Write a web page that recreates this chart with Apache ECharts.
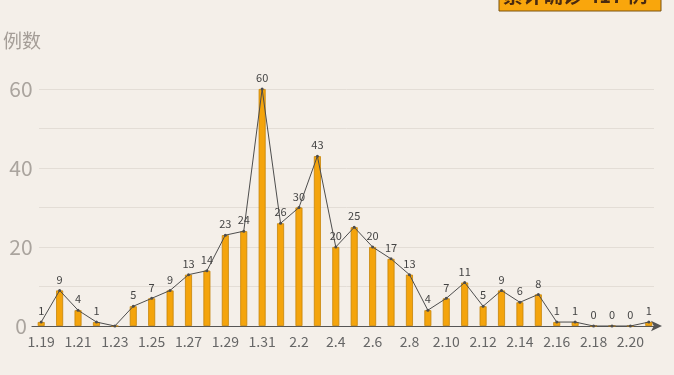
<!DOCTYPE html>
<html><head><meta charset="utf-8">
<script src="https://cdn.jsdelivr.net/npm/echarts@6/dist/echarts.min.js"></script>
<style>html,body{margin:0;padding:0;background:#F4EFE9;}#c{width:674px;height:375px;}</style>
</head><body><div id="c"></div>
<script>
const categories = ['1.19','1.20','1.21','1.22','1.23','1.24','1.25','1.26','1.27','1.28','1.29','1.30','1.31','2.1','2.2','2.3','2.4','2.5','2.6','2.7','2.8','2.9','2.10','2.11','2.12','2.13','2.14','2.15','2.16','2.17','2.18','2.19','2.20','2.21'];
const cases = [1,9,4,1,0,5,7,9,13,14,23,24,60,26,30,43,20,25,20,17,13,4,7,11,5,9,6,8,1,1,0,0,0,1];
const hiddenLabelIndex = [4];
const yTicks = [0,20,40,60];
const titleText = '例数';
const boxText = '累计确诊 417 例';

const chart = echarts.init(document.getElementById('c'));
const font = '"Noto Sans CJK SC", "Noto Sans", sans-serif';
chart.setOption({
  backgroundColor: '#F4EFE9',
  animation: false,
  graphic: [
    {type:'rect', shape:{x:499,y:-14,width:162,height:25}, style:{fill:'#F9A60C', stroke:'#7a5412', lineWidth:1}},
    {type:'text', left:503, top:-15, style:{text:boxText, font:'bold 20px "Noto Sans CJK SC"', fill:'#4a2a10'}},
    {type:'text', left:3, top:31, style:{text:titleText, font:'19px "Noto Sans CJK SC"', fill:'#a49d97'}}
  ],
  grid: [
    {left:39, right:20, top:89, height:237},
    {left:32, right:16, top:89, height:237}
  ],
  xAxis: [
    {gridIndex:0, type:'category', data:categories, show:false},
    {gridIndex:1, type:'category', data:categories, boundaryGap:true,
     axisLine:{show:true, lineStyle:{color:'#555', width:1.2}, symbol:['none','arrow'], symbolSize:[8,11], symbolOffset:[0,4]},
     axisTick:{show:false},
     axisLabel:{interval:1, margin:9, color:'#666', fontSize:14, fontFamily:font}}
  ],
  yAxis: [
    {gridIndex:0, type:'value', min:0, max:60, interval:10,
     axisLine:{show:false}, axisTick:{show:false},
     splitLine:{lineStyle:{color:'#e3ddd6', width:1}},
     axisLabel:{margin:18, align:'center', color:'#aaa49e', fontSize:21, fontFamily:font,
       formatter:v => yTicks.includes(v) ? String(v) : ''}},
    {gridIndex:1, type:'value', min:0, max:60, interval:10, show:false}
  ],
  series: [
    {type:'bar', xAxisIndex:1, yAxisIndex:1, data:cases, barWidth:7,
     itemStyle:{color:'#F4A40C', borderColor:'#c68408', borderWidth:0.8}},
    {type:'line', xAxisIndex:1, yAxisIndex:1, z:5,
     data:cases.map((v,i)=> hiddenLabelIndex.includes(i) ? {value:v, label:{show:false}} : v),
     symbol:'circle', symbolSize:3, showAllSymbol:true,
     lineStyle:{color:'#4d4d4d', width:1}, itemStyle:{color:'#4d4d4d'},
     label:{show:true, position:'top', distance:4, color:'#444', fontSize:11, fontFamily:font}}
  ]
});
</script></body></html>
